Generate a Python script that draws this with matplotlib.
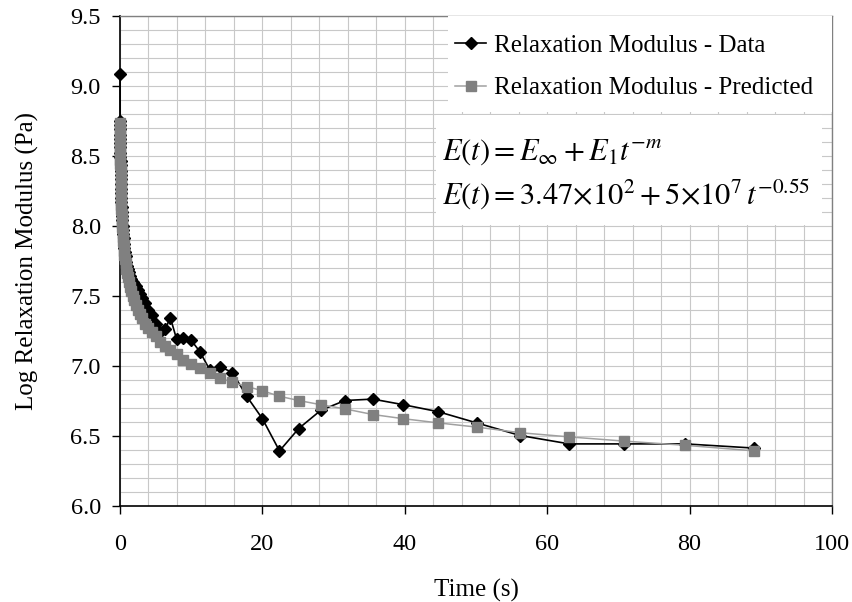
import numpy as np
import matplotlib
matplotlib.use('Agg')
import matplotlib.pyplot as plt
from matplotlib.patches import Rectangle
from matplotlib.ticker import FormatStrFormatter

plt.rcParams['font.family'] = ['Liberation Serif', 'DejaVu Serif']
plt.rcParams['mathtext.fontset'] = 'stix'

time_s = [0.0224, 0.0251, 0.0282, 0.0316, 0.0355, 0.0398, 0.0447, 0.0501, 0.0562, 0.0631,
          0.0708, 0.0794, 0.0891,
          0.100, 0.112, 0.126, 0.141, 0.158, 0.178, 0.200, 0.224, 0.251, 0.282,
          0.316, 0.355, 0.398, 0.447, 0.501, 0.562, 0.631, 0.708, 0.794, 0.891,
          1.00, 1.12, 1.26, 1.41, 1.58, 1.78, 2.00, 2.24, 2.51, 2.82,
          3.16, 3.55, 3.98, 4.47, 5.01, 5.62, 6.31, 7.08, 7.94, 8.91,
          10.0, 11.2, 12.6, 14.1, 15.8, 17.8, 20.0, 22.4, 25.1, 28.2,
          31.6, 35.5, 39.8, 44.7, 50.1, 56.2, 63.1, 70.8, 79.4, 89.1]

data_log = [9.08, 8.75, 8.72, 8.69, 8.65, 8.62, 8.59, 8.56, 8.52, 8.49,
            8.46, 8.43, 8.39,
            8.36, 8.33, 8.30, 8.26, 8.23, 8.20, 8.17, 8.13, 8.10, 8.07,
            8.04, 8.00, 7.97, 7.94, 7.91, 7.87, 7.84, 7.81, 7.78, 7.74,
            7.71, 7.69, 7.67, 7.64, 7.62, 7.60, 7.58, 7.57, 7.54, 7.51,
            7.48, 7.45, 7.40, 7.36, 7.30, 7.24, 7.26, 7.34, 7.19, 7.20,
            7.18, 7.10, 6.97, 6.99, 6.95, 6.78, 6.62, 6.39, 6.55, 6.68,
            6.75, 6.76, 6.72, 6.67, 6.59, 6.50, 6.44, 6.44, 6.44, 6.41]

pred_log = [8.73, 8.70, 8.67, 8.64, 8.60, 8.57, 8.54, 8.51, 8.47, 8.44,
            8.41, 8.38, 8.34,
            8.31, 8.28, 8.25, 8.21, 8.18, 8.15, 8.12, 8.08, 8.05, 8.02,
            7.99, 7.95, 7.92, 7.89, 7.86, 7.82, 7.79, 7.76, 7.73, 7.69,
            7.66, 7.63, 7.60, 7.56, 7.53, 7.50, 7.47, 7.43, 7.40, 7.37,
            7.34, 7.30, 7.27, 7.24, 7.21, 7.17, 7.14, 7.11, 7.08, 7.04,
            7.01, 6.98, 6.95, 6.91, 6.88, 6.85, 6.82, 6.78, 6.75, 6.72,
            6.69, 6.65, 6.62, 6.59, 6.56, 6.52, 6.49, 6.46, 6.43, 6.39]

x_ticks = [0, 20, 40, 60, 80, 100]
y_ticks = [6.0, 6.5, 7.0, 7.5, 8.0, 8.5, 9.0, 9.5]

fig = plt.figure(figsize=(8.53, 6.02), dpi=100)
ax = fig.add_axes([120/853, (602-505.5)/602, 712/853, 490/602])

ax.set_xlim(0, 100)
ax.set_ylim(6.0, 9.5)
ax.set_xticks(x_ticks)
ax.set_yticks(y_ticks)
ax.set_xticks(np.arange(0, 101, 4), minor=True)
ax.set_yticks(np.arange(6.0, 9.501, 0.1), minor=True)
ax.yaxis.set_major_formatter(FormatStrFormatter('%.1f'))
ax.grid(which='both', color='#c8c8c8', lw=0.8, zorder=0)
ax.set_axisbelow(True)
ax.tick_params(which='minor', length=0)
ax.tick_params(which='major', direction='out', length=5.8, width=1.0, labelsize=17.5, colors='black')
ax.tick_params(axis='x', pad=15)
ax.tick_params(axis='y', pad=8)

for s in ['left', 'bottom']:
    ax.spines[s].set_color('black')
    ax.spines[s].set_linewidth(1.2)
for s in ['top', 'right']:
    ax.spines[s].set_color('#808080')
    ax.spines[s].set_linewidth(1.0)

ax.plot(time_s, data_log, color='black', lw=1.2, marker='D', ms=5.8,
        mfc='black', mec='black', zorder=3, clip_on=False,
        label='Relaxation Modulus - Data')
ax.plot(time_s, pred_log, color='#a0a0a0', lw=1.1, marker='s', ms=7,
        mfc='#808080', mec='#808080', zorder=4, clip_on=False,
        label='Relaxation Modulus - Predicted')

# white boxes for legend and equation
ax.add_patch(Rectangle((0.4607, 0.803), 1 - 0.4607, 0.197, transform=ax.transAxes,
                       facecolor='white', edgecolor='none', zorder=5))
ax.add_patch(Rectangle((0.4438, 0.5724), 0.986 - 0.4438, 0.797 - 0.5724, transform=ax.transAxes,
                       facecolor='white', edgecolor='none', zorder=5))

leg = ax.legend(loc='upper left', bbox_to_anchor=((455-120)/712, (505.5-34)/490),
                frameon=False, fontsize=18, handlelength=1.25, handletextpad=0.3,
                labelspacing=0.82, borderpad=0, borderaxespad=0)
leg.set_zorder(6)

ax.text((442-120)/712, (505.5-152)/490, r'$E(t) = E_{\infty} + E_1 t^{-m}$',
        transform=ax.transAxes, fontsize=22, ha='left', va='center', zorder=7)
ax.text((442-120)/712, (505.5-195)/490, r'$E(t) = 3.47{\times}10^{2} + 5{\times}10^{7}\,t^{-0.55}$',
        transform=ax.transAxes, fontsize=22, ha='left', va='center', zorder=7)

ax.set_xlabel('Time (s)', fontsize=18)
ax.set_ylabel('Log Relaxation Modulus (Pa)', fontsize=18)
ax.xaxis.set_label_coords(0.5, (505.5-590)/490)
ax.xaxis.label.set_verticalalignment('center')
ax.yaxis.set_label_coords((27-120)/712, 0.5)
ax.yaxis.label.set_verticalalignment('center')

fig.savefig('out.png', dpi=100)
